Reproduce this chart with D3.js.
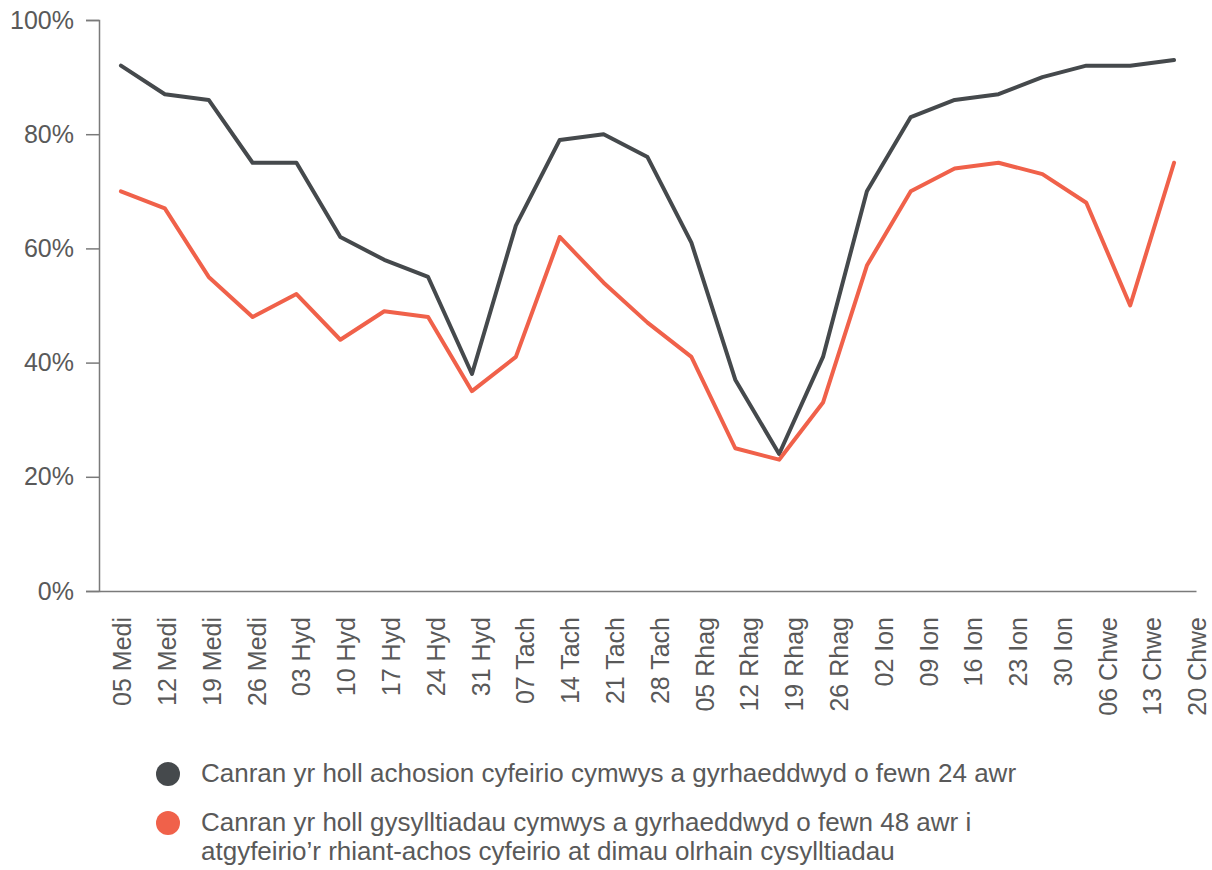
<!DOCTYPE html>
<html>
<head>
<meta charset="utf-8">
<script src="https://cdn.jsdelivr.net/npm/d3@7/dist/d3.min.js"></script>
<style>
  html, body { margin: 0; padding: 0; background: #ffffff; }
  svg { display: block; font-family: "Liberation Sans", Arial, sans-serif; }
</style>
</head>
<body>
<svg id="chart" width="1212" height="870"></svg>
<script>
const categories = ["05 Medi","12 Medi","19 Medi","26 Medi","03 Hyd","10 Hyd","17 Hyd","24 Hyd","31 Hyd",
  "07 Tach","14 Tach","21 Tach","28 Tach","05 Rhag","12 Rhag","19 Rhag","26 Rhag",
  "02 Ion","09 Ion","16 Ion","23 Ion","30 Ion","06 Chwe","13 Chwe","20 Chwe"];
const series24 = [92,87,86,75,75,62,58,55,38,64,79,80,76,61,37,24,41,70,83,86,87,90,92,92,93];
const series48 = [70,67,55,48,52,44,49,48,35,41,62,54,47,41,25,23,33,57,70,74,75,73,68,50,75];
const yTicks = [0,20,40,60,80,100];
const legendLabels = [
  ["Canran yr holl achosion cyfeirio cymwys a gyrhaeddwyd o fewn 24 awr"],
  ["Canran yr holl gysylltiadau cymwys a gyrhaeddwyd o fewn 48 awr i", "atgyfeirio\u2019r rhiant-achos cyfeirio at dimau olrhain cysylltiadau"]
];
const colors = ["#45494c", "#f0614a"];

const svg = d3.select("#chart");
const mLeft = 99, mRight = 1196, mTop = 20, mBottom = 591;
const axisColor = "#7a7a7a", textColor = "#595959";

const x = d3.scaleBand().domain(categories).range([mLeft, mRight]).padding(0);
const xLabel = d3.scalePoint().domain(categories).range([122, 1197]);
const y = d3.scaleLinear().domain([0, 100]).range([mBottom, mTop]);

// Y axis
const yAxis = svg.append("g").attr("transform", `translate(${mLeft},0)`)
  .call(d3.axisLeft(y).tickValues(yTicks).tickFormat(d => d + "%").tickSize(13).tickPadding(12));
yAxis.select(".domain").attr("stroke", axisColor).attr("stroke-width", 1.5);
yAxis.selectAll(".tick line").attr("stroke", axisColor).attr("stroke-width", 1.5);
yAxis.selectAll(".tick text").attr("fill", textColor).style("font-size", "25px")
  .style("font-family", "'Liberation Sans', Arial, sans-serif");

// X axis line
const xAxis = svg.append("g").attr("transform", `translate(0,${mBottom})`)
  .call(d3.axisBottom(x).tickSize(0).tickFormat(""));
xAxis.select(".domain").attr("stroke", axisColor).attr("stroke-width", 1.5);
xAxis.selectAll(".tick").remove();

// X labels
const xLab = svg.append("g").attr("transform", `translate(0,${mBottom})`)
  .call(d3.axisBottom(xLabel).tickSize(0).tickPadding(0));
xLab.select(".domain").remove();
xLab.selectAll(".tick text")
  .attr("transform", "rotate(-90)")
  .attr("x", -26).attr("y", 0).attr("dy", "0.35em")
  .attr("text-anchor", "end")
  .attr("fill", textColor).style("font-size", "25px")
  .style("font-family", "'Liberation Sans', Arial, sans-serif");

// Lines
const line = d3.line().x((d, i) => x(categories[i]) + x.bandwidth() / 2).y(d => y(d));
[series24, series48].forEach((s, k) => {
  svg.append("path").datum(s).attr("d", line)
    .attr("fill", "none").attr("stroke", colors[k]).attr("stroke-width", 4)
    .attr("stroke-linejoin", "round").attr("stroke-linecap", "round");
});

// Legend
const leg = svg.append("g");
const legY = [774, 823];
legendLabels.forEach((lines, k) => {
  leg.append("circle").attr("cx", 168).attr("cy", legY[k]).attr("r", 12).attr("fill", colors[k]);
  const t = leg.append("text").attr("x", 201).attr("y", legY[k] + 8)
    .attr("fill", textColor).style("font-size", "26px");
  lines.forEach((ln, j) => {
    t.append("tspan").attr("x", 201).attr("dy", j === 0 ? 0 : 29).text(ln);
  });
});
</script>
</body>
</html>
